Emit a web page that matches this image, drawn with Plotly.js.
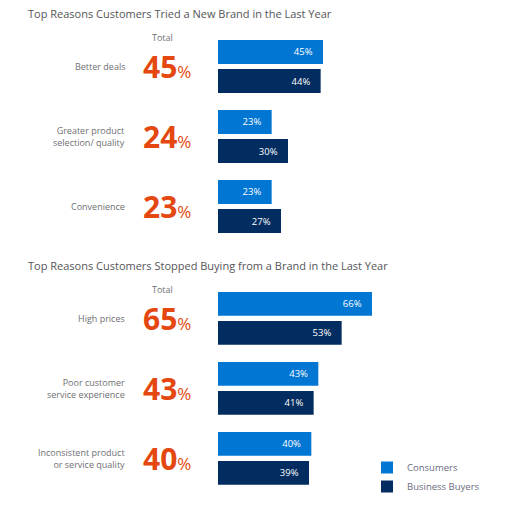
<!DOCTYPE html>
<html>
<head>
<meta charset="utf-8">
<script src="https://cdn.plot.ly/plotly-3.0.1.min.js"></script>
<style>
  html, body { margin: 0; padding: 0; background: #fff; }
  #chart { width: 505px; height: 517px; }
</style>
</head>
<body>
<div id="chart"></div>
<script>
// data
const seriesNames = ['Consumers', 'Business Buyers'];

const triedTitle = 'Top Reasons Customers Tried a New Brand in the Last Year';
const triedReasons = ['Better deals', 'Greater product<br>selection/ quality', 'Convenience'];
const triedConsumers = [45, 23, 23];
const triedBusiness = [44, 30, 27];
const triedTotal = [45, 24, 23];

const stoppedTitle = 'Top Reasons Customers Stopped Buying from a Brand in the Last Year';
const stoppedReasons = ['High prices', 'Poor customer<br>service experience', 'Inconsistent product<br>or service quality'];
const stoppedConsumers = [66, 43, 40];
const stoppedBusiness = [53, 41, 39];
const stoppedTotal = [65, 43, 40];

const BLUE = '#0176d3';
const NAVY = '#032d60';
const ORANGE = '#e4470f';
const GRAY = '#6f6f73';
const FONT = 'Open Sans, sans-serif';
const W = 505, H = 517;

function barTrace(name, reasons, values, color, yaxis, legend) {
    return {
        type: 'bar',
        orientation: 'h',
        name: name,
        y: reasons,
        x: values,
        yaxis: yaxis,
        marker: { color: color },
        texttemplate: '%{x}%\u00a0\u00a0\u00a0',
        textposition: 'inside',
        insidetextanchor: 'end',
        textfont: { color: '#ffffff', size: 9.5, family: FONT },
        showlegend: legend,
        hoverinfo: 'skip'
    };
}

const traces = [
    barTrace(seriesNames[0], triedReasons, triedConsumers, BLUE, 'y', true),
    barTrace(seriesNames[1], triedReasons, triedBusiness, NAVY, 'y', true),
    barTrace(seriesNames[0], stoppedReasons, stoppedConsumers, BLUE, 'y2', false),
    barTrace(seriesNames[1], stoppedReasons, stoppedBusiness, NAVY, 'y2', false)
];

// paper coords from pixels (top-left origin)
const px = x => x / W;
const py = y => 1 - y / H;

const annotations = [];

function addBlock(title, titleY, totalY, reasons, totals, yref) {
    annotations.push({
        text: title, xref: 'paper', yref: 'paper', x: px(26), y: py(titleY),
        xanchor: 'left', yanchor: 'middle', showarrow: false,
        font: { size: 11, color: '#555558', family: FONT }
    });
    annotations.push({
        text: 'Total', xref: 'paper', yref: 'paper', x: px(162), y: py(totalY),
        xanchor: 'center', yanchor: 'middle', showarrow: false,
        font: { size: 9, color: GRAY, family: FONT }
    });
    reasons.forEach((r, i) => {
        annotations.push({
            text: r, xref: 'paper', yref: yref, x: px(127), y: r,
            xanchor: 'right', yanchor: 'middle', align: 'right', showarrow: false,
            font: { size: 9, color: GRAY, family: FONT }
        });
        annotations.push({
            text: '<b>' + totals[i] + '</b><span style="font-size:17px">%</span>',
            xref: 'paper', yref: yref, x: px(167), y: r,
            xanchor: 'center', yanchor: 'middle', showarrow: false,
            font: { size: 30, color: ORANGE, family: FONT }
        });
    });
}

addBlock(triedTitle, 13, 37, triedReasons, triedTotal, 'y');
addBlock(stoppedTitle, 265, 289, stoppedReasons, stoppedTotal, 'y2');

const hidden = {
    showgrid: false, zeroline: false, showticklabels: false,
    showline: false, ticks: '', fixedrange: true
};

const layout = {
    width: W,
    height: H,
    margin: { l: 0, r: 0, t: 0, b: 0 },
    paper_bgcolor: '#ffffff',
    plot_bgcolor: '#ffffff',
    font: { family: FONT, color: GRAY },
    barmode: 'group',
    bargap: 0.171,
    bargroupgap: 0.18,
    xaxis: Object.assign({ domain: [px(218), px(218 + 233.3)], range: [0, 100] }, hidden),
    yaxis: Object.assign({
        domain: [py(241.5), py(31.5)], type: 'category',
        autorange: false, range: [2.5, -0.5]
    }, hidden),
    yaxis2: Object.assign({
        domain: [py(493.3), py(283.3)], type: 'category',
        autorange: false, range: [2.5, -0.5], anchor: 'x'
    }, hidden),
    showlegend: true,
    legend: {
        x: px(367), y: py(453), xanchor: 'left', yanchor: 'top',
        font: { size: 9.5, color: '#6b6b80', family: FONT },
        bgcolor: 'rgba(0,0,0,0)',
        itemclick: false, itemdoubleclick: false
    },
    annotations: annotations
};

Plotly.newPlot('chart', traces, layout, { displayModeBar: false, staticPlot: true });
</script>
</body>
</html>
